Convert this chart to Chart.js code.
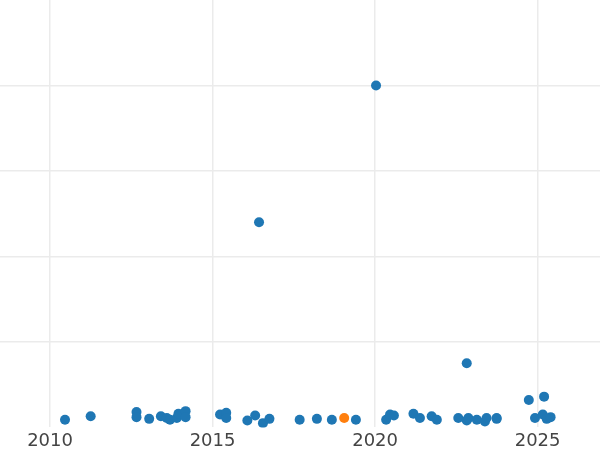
<!DOCTYPE html>
<html>
<head>
<meta charset="utf-8">
<script src="https://cdn.jsdelivr.net/npm/chart.js@4"></script>
<style>
html,body{margin:0;padding:0;background:#fff;}
#wrap{width:600px;height:450px;}
</style>
</head>
<body>
<div id="wrap"><canvas id="c" width="600" height="450"></canvas></div>
<script>
const yearTicks = [2010, 2015, 2020, 2025];
const blueX = [2010.46, 2011.25, 2012.66, 2012.66, 2013.05, 2013.41, 2013.59, 2013.69, 2013.9, 2013.95, 2014.17, 2014.17,
  2015.23, 2015.42, 2015.42, 2016.07, 2016.31, 2016.43, 2016.55, 2016.75, 2017.68, 2018.21, 2018.67, 2019.41,
  2020.03, 2020.34, 2020.46, 2020.58, 2021.18, 2021.38, 2021.74, 2021.9, 2022.56, 2022.82, 2022.82, 2022.87,
  2023.13, 2023.38, 2023.43, 2023.74, 2023.74, 2024.73, 2025.2, 2024.92, 2025.16, 2025.28, 2025.4];
const blueY = [0.09, 0.13, 0.18, 0.12, 0.10, 0.13, 0.11, 0.09, 0.11, 0.16, 0.19, 0.12,
  0.15, 0.17, 0.11, 0.08, 0.14, 2.40, 0.05, 0.10, 0.09, 0.10, 0.09, 0.09,
  4.00, 0.09, 0.15, 0.14, 0.16, 0.11, 0.13, 0.09, 0.11, 0.08, 0.75, 0.11,
  0.09, 0.07, 0.11, 0.10, 0.11, 0.32, 0.36, 0.11, 0.15, 0.10, 0.12];
const orangeX = [2019.05];
const orangeY = [0.11];

const toPts = (xs, ys) => xs.map((x, i) => ({x: x, y: ys[i]}));

new Chart(document.getElementById('c'), {
  type: 'scatter',
  data: {
    datasets: [
      {data: toPts(blueX, blueY), backgroundColor: '#1f77b4', borderWidth: 0, pointRadius: 5, pointHoverRadius: 5},
      {data: toPts(orangeX, orangeY), backgroundColor: '#ff7f0e', borderWidth: 0, pointRadius: 5, pointHoverRadius: 5}
    ]
  },
  options: {
    responsive: false,
    animation: false,
    layout: {padding: {top: 0, left: 0, right: 0, bottom: -5}, autoPadding: false},
    plugins: {legend: {display: false}, tooltip: {enabled: false}},
    scales: {
      x: {
        type: 'linear',
        min: 2008.46,
        max: 2026.92,
        afterBuildTicks: (axis) => { axis.ticks = yearTicks.map(v => ({value: v})); },
        ticks: {
          color: '#444',
          padding: 3,
          font: {family: 'DejaVu Sans', size: 18, lineHeight: 1.2},
          callback: (v) => String(v)
        },
        grid: {color: '#ebebeb', lineWidth: 1.5, drawTicks: false},
        border: {display: false}
      },
      y: {
        min: 0,
        max: 5,
        ticks: {display: false, stepSize: 1},
        grid: {
          color: (ctx) => (ctx.tick && (ctx.tick.value === 0 || ctx.tick.value === 5)) ? 'rgba(0,0,0,0)' : '#ebebeb',
          lineWidth: 1.5,
          drawTicks: false
        },
        border: {display: false}
      }
    }
  }
});
</script>
</body>
</html>
